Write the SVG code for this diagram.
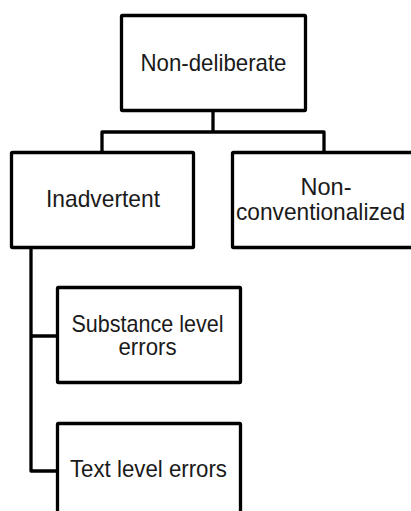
<svg xmlns="http://www.w3.org/2000/svg" width="411" height="511" viewBox="0 0 411 511">
  <style>
    .box { fill: #ffffff; stroke: #000000; stroke-width: 3.3; stroke-linejoin: round; }
    .link { fill: none; stroke: #000000; stroke-width: 3.3; stroke-linejoin: round; }
    .lbl { font-family: "Liberation Sans", Arial, sans-serif; font-size: 24px; fill: #1a1a1a; text-anchor: middle; }
  </style>
  <rect width="411" height="511" fill="#ffffff"/>

  <!-- connectors -->
  <g id="connectors">
    <path class="link" d="M213 111 V132 M102 152 V132 H324 V152"/>
    <path class="link" d="M31 248 V471 H57 M31 336 H57"/>
  </g>

  <!-- nodes -->
  <g id="non-deliberate">
    <rect class="box" x="121.5" y="15.5" width="184" height="95" rx="1"/>
    <text class="lbl" x="213.5" y="70.5" textLength="146" lengthAdjust="spacingAndGlyphs">Non-deliberate</text>
  </g>
  <g id="inadvertent">
    <rect class="box" x="11.5" y="152.5" width="182" height="95" rx="1"/>
    <text class="lbl" x="103" y="206.5" textLength="114" lengthAdjust="spacingAndGlyphs">Inadvertent</text>
  </g>
  <g id="non-conventionalized">
    <rect class="box" x="232.5" y="152.5" width="184" height="95" rx="1"/>
    <text class="lbl" x="326" y="194.5" textLength="51" lengthAdjust="spacingAndGlyphs">Non-</text>
    <text class="lbl" x="320.5" y="219.5" textLength="169" lengthAdjust="spacingAndGlyphs">conventionalized</text>
  </g>
  <g id="substance-level-errors">
    <rect class="box" x="57.5" y="287.5" width="183" height="95" rx="1"/>
    <text class="lbl" x="147.5" y="331.5" textLength="152" lengthAdjust="spacingAndGlyphs">Substance level</text>
    <text class="lbl" x="147.5" y="355" textLength="58" lengthAdjust="spacingAndGlyphs">errors</text>
  </g>
  <g id="text-level-errors">
    <rect class="box" x="57.5" y="423.5" width="183" height="95" rx="1"/>
    <text class="lbl" x="148.5" y="476.5" textLength="157" lengthAdjust="spacingAndGlyphs">Text level errors</text>
  </g>
</svg>
